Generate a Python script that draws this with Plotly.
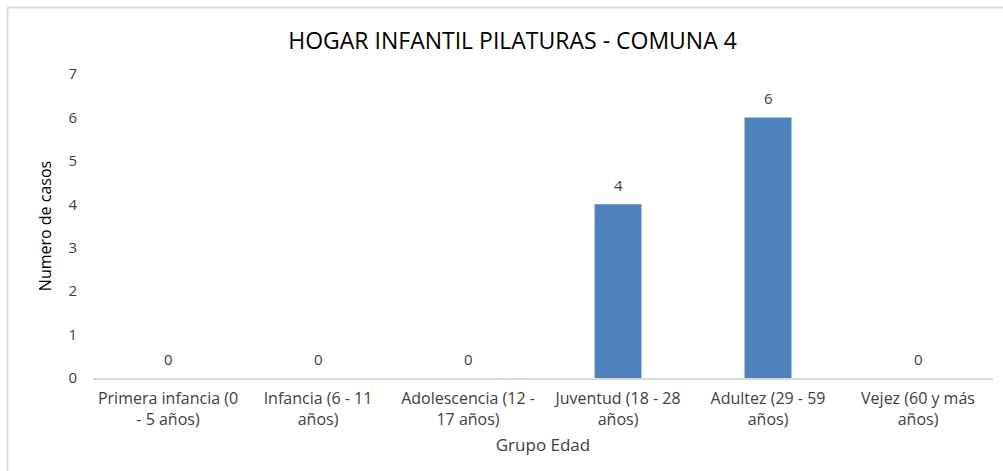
import plotly.graph_objects as go

categories = [
    "Primera infancia (0<br>- 5 años)",
    "Infancia (6 - 11<br>años)",
    "Adolescencia (12 -<br>17 años)",
    "Juventud (18 - 28<br>años)",
    "Adultez (29 - 59<br>años)",
    "Vejez (60 y más<br>años)",
]
values = [0, 0, 0, 4, 6, 0]
y_ticks = [0, 1, 2, 3, 4, 5, 6, 7]

FONT = "'Open Sans', Carlito, 'Liberation Sans', Arial, sans-serif"
TXT = "#404040"

fig = go.Figure()
fig.add_trace(go.Bar(
    x=categories, y=values,
    marker=dict(color="#4F81BD", line=dict(width=0)),
    hoverinfo="skip",
))

for c, v in zip(categories, values):
    fig.add_annotation(x=c, y=v, text=str(v), showarrow=False,
                       yanchor="bottom", yshift=7,
                       font=dict(family=FONT, size=15, color=TXT))

# chart-area border (top and left visible)
fig.add_shape(type="line", xref="paper", yref="paper",
              x0=-0.095, x1=1.012, y0=1.2188, y1=1.2188,
              line=dict(color="#D9D9D9", width=2))
fig.add_shape(type="line", xref="paper", yref="paper",
              x0=-0.095, x1=-0.095, y0=1.2188, y1=-0.32,
              line=dict(color="#D9D9D9", width=2))

fig.update_layout(
    width=1003, height=471,
    margin=dict(l=93, r=10, t=74, b=93, autoexpand=False),
    paper_bgcolor="white", plot_bgcolor="white",
    bargap=0.687,
    showlegend=False,
    font=dict(family=FONT, color=TXT, size=15),
    title=dict(text="HOGAR INFANTIL PILATURAS - COMUNA 4",
               x=0.511, xref="container", xanchor="center",
               y=0.913, yref="container", yanchor="middle",
               font=dict(family=FONT, size=23, color="#000000")),
    xaxis=dict(
        showgrid=False, zeroline=False,
        showline=True, linecolor="#D9D9D9", linewidth=1.5,
        ticks="", ticklabelstandoff=5,
        tickfont=dict(family=FONT, size=16, color=TXT),
        title=dict(text="Grupo Edad", standoff=10,
                   font=dict(family=FONT, size=17, color=TXT)),
        tickangle=0, automargin=False,
    ),
    yaxis=dict(
        range=[0, 7], tickvals=y_ticks,
        showgrid=False, zeroline=False, showline=False,
        ticks="", ticklabelstandoff=15,
        tickfont=dict(family=FONT, size=15, color=TXT),
        title=dict(text="Numero de casos", standoff=12,
                   font=dict(family=FONT, size=16, color="#000000")),
        automargin=False,
    ),
)

fig.write_html("out.html",
               config={"displayModeBar": False, "staticPlot": True},
               post_script="document.body.style.margin='0px';")
